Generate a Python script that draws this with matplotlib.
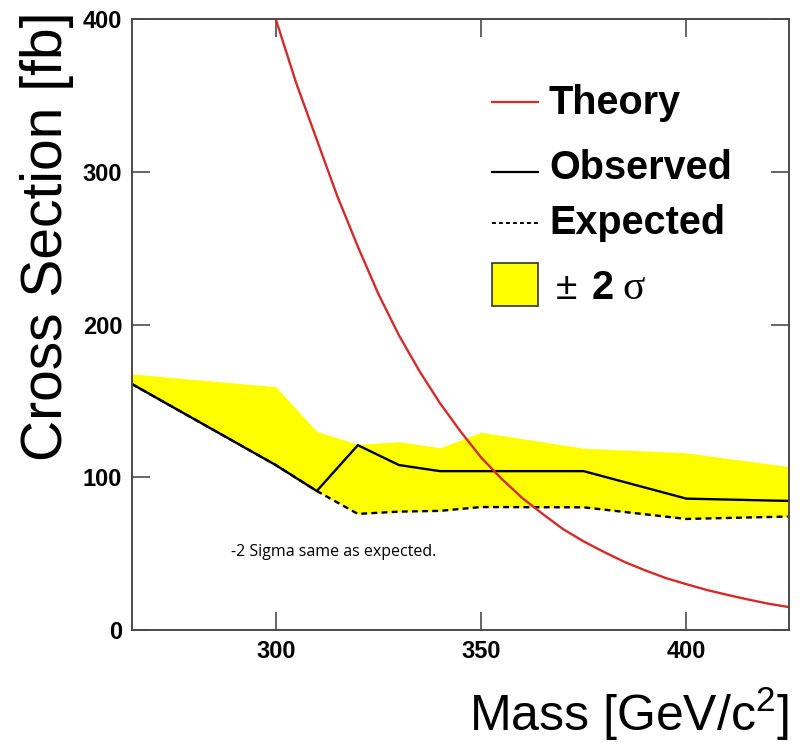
import matplotlib
matplotlib.use("Agg")
import matplotlib.pyplot as plt
from matplotlib.lines import Line2D
from matplotlib.patches import Rectangle

plt.rcParams['font.family'] = ['Liberation Sans', 'DejaVu Sans']
plt.rcParams['mathtext.fontset'] = 'custom'
plt.rcParams['mathtext.rm'] = 'Liberation Sans'
plt.rcParams['mathtext.default'] = 'regular'

# ---- data ----
mass = [265, 300, 310, 320, 330, 340, 350, 375, 400, 425]
observed = [161, 108, 91, 121, 108, 104, 104, 104, 86, 84.5]
expected = [161, 108, 91, 76, 77.5, 78, 80.5, 80.3, 72.7, 74.3]
upper_2sigma = [167.6, 159.3, 130, 121.5, 123.3, 119.3, 129.5, 119, 116, 107]

theory_mass = [300, 305, 310, 315, 320, 325, 330, 335, 340, 345, 350, 355, 360,
               365, 370, 375, 380, 385, 390, 395, 400, 405, 410, 415, 420, 425]
theory = [400, 358, 321, 284, 251, 220, 193, 169.5, 148.5, 130, 113, 99, 86.5,
          76, 66, 58, 51, 44.5, 39, 34, 30, 26.2, 23, 20, 17.2, 15]

xticks = [300, 350, 400]
yticks = [0, 100, 200, 300, 400]

W, H = 803, 745
fig = plt.figure(figsize=(W / 100, H / 100), dpi=100)
ax = fig.add_axes([132 / W, (H - 630) / H, (789 - 132) / W, (630 - 19) / H])

def P(px, py):
    return (px / W, (H - py) / H)

red = '#d42a2a'
ax.fill_between(mass, expected, upper_2sigma, color='#ffff00', lw=0, zorder=2)
ax.plot(mass, expected, color='black', lw=1.7, ls=(0, (2.5, 1.8)), zorder=3)
ax.plot(mass, observed, color='black', lw=1.7, zorder=4)
ax.plot(theory_mass, theory, color=red, lw=1.7, zorder=5, clip_on=True)

ax.set_xlim(265, 425)
ax.set_ylim(0, 400)
ax.set_xticks(xticks)
ax.set_yticks(yticks)
ax.set_xticklabels([str(t) for t in xticks], fontweight='bold', fontsize=17)
ax.set_yticklabels([str(t) for t in yticks], fontweight='bold', fontsize=17)
ax.tick_params(direction='in', length=13, width=1.2, color='#4a4a4a',
               top=True, right=True, pad=7)
for s in ax.spines.values():
    s.set_color('#4a4a4a')
    s.set_linewidth(1.4)
    s.set_zorder(6)

ax.set_xlabel('Mass [GeV/c$^{2}$]', fontsize=36, loc='right')
ax.xaxis.set_label_coords(1.0, -0.09)
ax.set_ylabel('Cross Section [fb]', fontsize=41, loc='top')
ax.yaxis.set_label_coords(-0.088, 1.012)

ax.text(289.2, 48.5, '-2 Sigma same as expected.', fontsize=11.5,
        family=['Open Sans', 'DejaVu Sans'], va='baseline', ha='left', zorder=7)

# ---- manual legend ----
x0, x1 = 491.7, 538.3
fig.add_artist(Line2D([x0 / W, x1 / W], [P(0, 101.7)[1]] * 2, color=red, lw=1.6))
fig.add_artist(Line2D([x0 / W, x1 / W], [P(0, 171.7)[1]] * 2, color='black', lw=1.6))
fig.add_artist(Line2D([x0 / W, x1 / W], [P(0, 223)[1]] * 2, color='black', lw=1.4,
                      ls=(0, (2, 1.6))))
bx, by = P(x0, 305.7)
fig.add_artist(Rectangle((bx, by), (x1 - x0) / W, (305.7 - 262.7) / H,
                         facecolor='#ffff00', edgecolor='#333333', lw=1.2,
                         transform=fig.transFigure))
for label, py in [('Theory', 114.3), ('Observed', 179.3), ('Expected', 234.3)]:
    fig.text(*P(549, py), label, fontsize=28.5, fontweight='bold', va='baseline', ha='left')
fig.text(*P(556, 299.3), '±', fontsize=28, va='baseline', ha='left')
fig.text(*P(592, 299.3), '2', fontsize=28.5, fontweight='bold', va='baseline', ha='left')
fig.text(*P(622, 299.3), 'σ', fontsize=30, family=['Liberation Serif', 'DejaVu Serif'],
         va='baseline', ha='left')

fig.savefig('out.png', dpi=100)
